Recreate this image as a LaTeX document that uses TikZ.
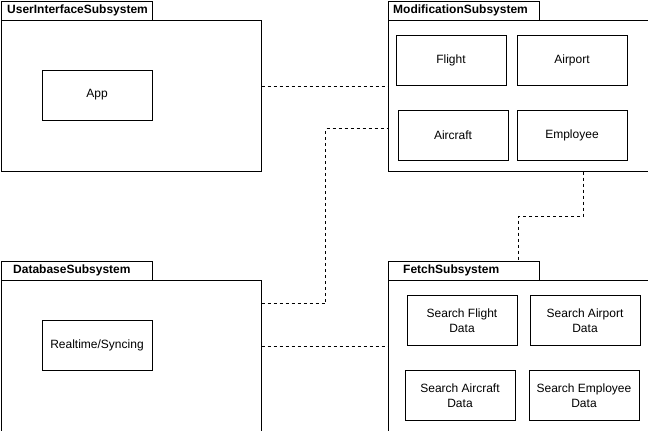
\documentclass[tikz,border=0pt]{standalone}
\usepackage{fontspec}
\setmainfont{Liberation Sans}
\usetikzlibrary{calc}
\begin{document}
\begin{tikzpicture}[x=1pt,y=-1pt,
  pkg/.style={draw=black,line width=1pt,anchor=north west,inner sep=0pt,minimum width=260pt,minimum height=151pt},
  tabbox/.style={draw=black,line width=1pt,anchor=north west,inner sep=0pt,minimum width=151pt,minimum height=19pt},
  item/.style={draw=black,line width=1pt,inner sep=0pt,minimum width=110pt,minimum height=50pt,align=center,font=\fontsize{12}{15}\selectfont},
  tablabel/.style={anchor=west,inner sep=0pt,font=\fontsize{12}{14}\selectfont\bfseries},
  conn/.style={draw=black,line width=1pt,dash pattern=on 3pt off 3pt}]
\useasboundingbox (0,0) rectangle (648,431);
% UserInterface
\node[tabbox] (uitab) at (0.5,0.5) {};
\node[pkg] (ui) at (0.5,19.5) {};
\node[tablabel] (uilbl) at (7,10) {UserInterfaceSubsystem};
\node[item] (app) at (97,95) {App};
% Modification
\node[tabbox] (modtab) at (387.5,0.5) {};
\node[pkg,minimum width=260pt] (mod) at (387.5,19.5) {};
\node[tablabel] (modlbl) at (393,10) {ModificationSubsystem};
\node[item] (flight) at (451,60.5) {Flight};
\node[item] (airport) at (572,60.5) {Airport};
\node[item] (aircraft) at (453,135.5) {Aircraft};
\node[item] (employee) at (572,135.5) {Employee};
% Database
\node[tabbox] (dbtab) at (0.5,260.5) {};
\node[pkg] (db) at (0.5,279.5) {};
\node[tablabel] (dblbl) at (13,270) {DatabaseSubsystem};
\node[item] (rt) at (97,345.5) {Realtime/Syncing};
% Fetch
\node[tabbox] (ftab) at (387.5,260.5) {};
\node[pkg] (fetch) at (387.5,279.5) {};
\node[tablabel] (flbl) at (403,270) {FetchSubsystem};
\node[item] (sflight) at (462,320.5) {Search Flight\\Data};
\node[item] (sairport) at (585,320.5) {Search Airport\\Data};
\node[item] (saircraft) at (460,395.5) {Search Aircraft\\Data};
\node[item] (semployee) at (584,395.5) {Search Employee\\Data};
% connectors
\draw[conn] (ui.east |- flight.south) -- (mod.west |- flight.south);
\draw[conn] ($(db.north east)+(0,24)$) -| ($(db.north east)+(64,0)$) |- ($(mod.north west)+(0,109)$);
\draw[conn] (db.east |- sflight.south) -- (fetch.west |- sflight.south);
\draw[conn] ($(mod.south)+(65,0)$) -- ++(0,45) -| (ftab.north -| mod.south);
\end{tikzpicture}
\end{document}
